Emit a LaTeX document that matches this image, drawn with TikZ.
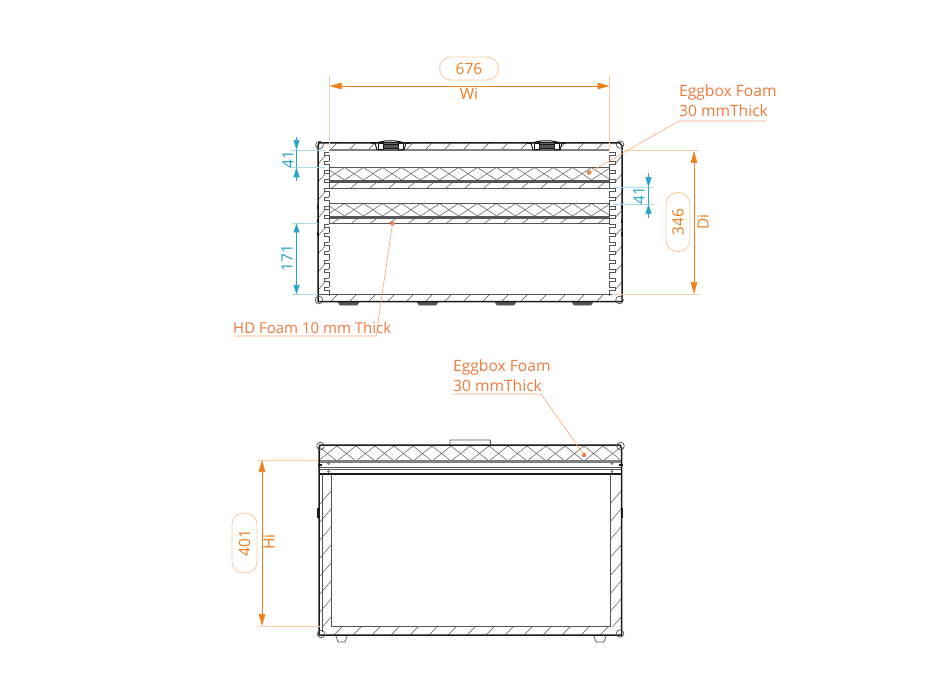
\documentclass[tikz,border=0pt]{standalone}
\usepackage{fontspec}
\setmainfont{Open Sans}
\usetikzlibrary{arrows.meta}
\definecolor{dimo}{HTML}{EF7D1E}
\definecolor{lito}{HTML}{F9CFA9}
\definecolor{leado}{HTML}{F4A97C}
\definecolor{txto}{HTML}{EE7B3C}
\definecolor{dimb}{HTML}{27A4C9}
\definecolor{litb}{HTML}{A9DDEC}
\definecolor{ink}{HTML}{1A1A1A}
\definecolor{mid}{HTML}{555555}
\tikzset{
  x=1pt,y=-1pt,
  outline/.style={draw=ink,line width=1.5pt},
  panel/.style={draw=mid,line width=0.9pt},
  thin hatch/.style={draw=mid,line width=0.5pt},
  foot/.style={draw=mid,fill=mid,line width=0.5pt},
  ftfoot/.style={draw=mid,fill=white,line width=0.7pt},
  corner/.style={draw=mid,line width=0.7pt},
  ext o/.style={draw=lito,line width=1pt},
  ext b/.style={draw=litb,line width=0.9pt},
  dim o/.style={draw=dimo,line width=0.6pt,{Triangle[length=12pt,width=6.5pt]}-{Triangle[length=12pt,width=6.5pt]}},
  dim bi/.style={draw=dimb,line width=0.6pt,{Triangle[length=9pt,width=6pt]}-{Triangle[length=9pt,width=6pt]}},
  dim bo/.style={draw=dimb,line width=0.6pt},
  tip b/.style={draw=dimb,line width=0.6pt,-{Triangle[length=10pt,width=6pt]}},
  pill/.style={draw=lito,line width=0.9pt,fill=white,rounded corners=11.5pt},
  ot/.style={text=dimo,font=\fontsize{15.5}{15.5}\selectfont,inner sep=0pt},
  bt/.style={text=dimb,font=\fontsize{15.5}{15.5}\selectfont,inner sep=0pt},
  lab/.style={text=txto,font=\fontsize{15}{15}\selectfont,inner sep=0pt,anchor=base west},
  labw/.style={lab,font=\fontsize{15.6}{15.6}\selectfont},
  leader/.style={draw=leado,line width=0.6pt},
  leaddot/.style={circle,fill=txto,draw=none,inner sep=0pt,minimum size=4.5pt},
}
\begin{document}
\begin{tikzpicture}
\useasboundingbox (0,0) rectangle (933,700);
\fill[white] (0,0) rectangle (933,700);

% ===== upper view: hatching
\begin{scope}
  \clip (329,143.5) rectangle (609,150);
  \foreach \h in {0,...,15} \draw[thin hatch] ({330+19*\h},150) -- ({337+19*\h},143);
\end{scope}
\begin{scope}
  \clip (329,294) rectangle (609,301);
  \foreach \h in {0,...,15} \draw[thin hatch] ({331+19*\h},301) -- ({338+19*\h},294);
\end{scope}
\foreach \ya/\yb in {167.5/180,203.5/216}{
  \begin{scope}
    \clip (329,\ya) rectangle (609,\yb);
    \foreach \h in {-1,...,15}{
      \draw[thin hatch] ({325.5+19*\h},\ya) -- ({344.5+19*\h},\yb);
      \draw[thin hatch] ({344.5+19*\h},\ya) -- ({325.5+19*\h},\yb);
    }
  \end{scope}
}
\foreach \ya/\yb in {182/188,218.5/223.5}{
  \begin{scope}
    \clip (329,\ya) rectangle (609,\yb);
    \foreach \h in {0,...,15} \draw[thin hatch] ({332+19*\h},\yb) -- ({339+19*\h},\ya);
  \end{scope}
}
% walls hatching
\begin{scope}
  \clip (318,146) rectangle (325,298);
  \foreach \h in {0,...,9} \draw[thin hatch] (317,{165+18*\h}) -- (326,{155+18*\h});
\end{scope}
\begin{scope}
  \clip (615,146) rectangle (622,298);
  \foreach \h in {0,...,9} \draw[thin hatch] (614,{165+18*\h}) -- (623,{155+18*\h});
\end{scope}
% combs
\foreach \h in {0,...,15}{
  \draw[thin hatch] (329,{152+9*\h}) -- (324,{152+9*\h}) -- (324,{155.5+9*\h}) -- (329,{155.5+9*\h}) -- (329,{161+9*\h});
  \draw[thin hatch] (609,{152+9*\h}) -- (615,{152+9*\h}) -- (615,{155.5+9*\h}) -- (609,{155.5+9*\h}) -- (609,{161+9*\h});
}
% panels
\draw[panel,draw=gray,line width=1.1pt] (329,150) -- (609,150);
\foreach \yy in {167.5,180,182,188,203.5,216,218.5,223.5,294}
  \draw[panel] (329,\yy) -- (609,\yy);
\draw[panel,line width=1.3pt] (329,181) -- (609,181);
\draw[panel,line width=1.3pt] (329,217.5) -- (609,217.5);
\draw[panel] (329,167.5) -- (329,188);
\draw[panel] (329,203.5) -- (329,223.5);
\draw[panel] (609,167.5) -- (609,188);
\draw[panel] (609,203.5) -- (609,223.5);
\draw[panel] (318,294) -- (622,294);
% feet
\foreach \fx in {338,417,495,572}
  \draw[foot] (\fx,302) -- ({\fx+21},302) -- ({\fx+19},305) -- ({\fx+2},305) -- cycle;
% latches
\foreach \lx in {372,528}{
  \draw[draw=ink,fill=white,line width=1pt] ({\lx+3},143) -- ({\lx+5},150) -- ({\lx+32},150) -- ({\lx+34},143) -- ({\lx+24},141) -- ({\lx+13},141) -- cycle;
  \draw[draw=ink,fill=mid,line width=.6pt] ({\lx+11},144) rectangle ({\lx+26},148);
  \draw[draw=ink,line width=.6pt] ({\lx+6},143) rectangle ({\lx+11},149) ({\lx+26},143) rectangle ({\lx+31},149);
  \draw[ink,line width=2pt] ({\lx-1},143) -- ({\lx+4},143) ({\lx+33},143) -- ({\lx+38},143);
}
\draw[outline] (318,146) -- (318,301.5) -- (622,301.5) -- (622,146) -- (620,143) -- (319,143) -- cycle;
\foreach \cx/\cy in {319.5/145,620/144.5,319/300,619.5/300}
  \draw[corner] (\cx,\cy) circle (3.8);
\foreach \by in {205,219,232}{
  \draw[ink,line width=1.6pt] (318,\by) -- (318,{\by+4});
  \draw[ink,line width=1.6pt] (622,\by) -- (622,{\by+4});
}

% ===== lower view
\begin{scope}
  \clip (320,446) rectangle (620,461);
  \foreach \h in {-1,...,16}{
    \draw[thin hatch] ({318+19*\h},446) -- ({337+19*\h},461);
    \draw[thin hatch] ({337+19*\h},446) -- ({318+19*\h},461);
  }
\end{scope}
\begin{scope}
  \clip (320,474) rectangle (331,626);
  \foreach \h in {0,...,9} \draw[thin hatch] (319,{505+18*\h}) -- (332,{490+18*\h});
\end{scope}
\begin{scope}
  \clip (610,474) rectangle (621,626);
  \foreach \h in {0,...,9} \draw[thin hatch] (609,{505+18*\h}) -- (622,{490+18*\h});
\end{scope}
\begin{scope}
  \clip (331,626) rectangle (610,635);
  \foreach \h in {0,...,15} \draw[thin hatch] ({334+19*\h},635) -- ({343+19*\h},626);
\end{scope}
\draw[panel,fill=white] (450,445) -- (450,440) -- (490,440) -- (491,445);
\draw[panel,line width=2.4pt,draw=gray] (320,461.5) -- (621,461.5);
\draw[panel,line width=.7pt] (320,467) -- (621,467);
\draw[panel,line width=.7pt] (320,469.5) -- (621,469.5);
\draw[panel,draw=ink,line width=1.1pt] (320,474) -- (621,474);
\draw[panel] (331,474) -- (331,626) -- (610,626) -- (610,474);
\draw[panel] (322,474) -- (322,632);
\foreach \sx in {328.5,612}{
  \draw[mid,line width=.6pt] (\sx,463.5) circle (1);
  \draw[mid,line width=.6pt] (\sx,471.5) circle (1);
}
\draw[ftfoot] (336,636) -- (338,642) -- (345,642) -- (347,636);
\draw[ftfoot] (594,636) -- (596,642) -- (604,642) -- (606,636);
\draw[outline] (319,448) -- (319,635) -- (621.5,635) -- (621.5,448) -- (620,445) -- (320,445) -- cycle;
\foreach \cx/\cy in {320.5/446,620.5/446,321/634,620/633.5}
  \draw[corner] (\cx,\cy) circle (3.8);
\draw[ink,line width=1.2pt] (318,465) -- (322,465);
\draw[ink,line width=1.2pt] (619,465) -- (623,465);
\draw[ink,line width=1.8pt] (318,508) -- (318,518);
\draw[ink,line width=1.8pt] (622.5,508) -- (622.5,518);

% ===== dimensions
% width
\coordinate (wl) at (329.5,75); \coordinate (wle) at (329.5,150);
\coordinate (wr) at (609.5,75); \coordinate (wre) at (609.5,150);
\draw[ext o] (wl) -- (wle);
\draw[ext o] (wr) -- (wre);
\draw[dim o] (329.5,86) -- (609.5,86);
\node[pill,minimum width=59pt,minimum height=23pt,inner sep=0pt,ot] (w676) at (469,68.5) {676};
\node[ot] (wi) at (469,94) {Wi};
% depth
\coordinate (da) at (622,151); \coordinate (db) at (699,151);
\coordinate (dc) at (612,294); \coordinate (dd) at (699,294);
\draw[ext o] (da) -- (db);
\draw[ext o] (dc) -- (dd);
\draw[dim o] (694,151) -- (694,294);
\node[pill,minimum width=59pt,minimum height=24pt,inner sep=0pt,ot,rotate=90] (d346) at (678,222) {346};
\node[ot,rotate=90] (di) at (703,222) {Di};
% height
\coordinate (ha) at (258,460); \coordinate (hb) at (318,460);
\coordinate (hc) at (258,626); \coordinate (hd) at (320,626);
\draw[ext o] (ha) -- (hb);
\draw[ext o] (hc) -- (hd);
\draw[dim o] (262,460) -- (262,626);
\node[pill,minimum width=60pt,minimum height=25pt,inner sep=0pt,ot,rotate=90] (h401) at (244.5,543) {401};
\node[ot,rotate=90] (hi) at (269,542) {Hi};
% blue left 41
\coordinate (b1) at (291,150); \coordinate (b1e) at (325,150);
\coordinate (b2) at (291,167.5); \coordinate (b2e) at (325,167.5);
\draw[ext b] (b1) -- (b1e);
\draw[ext b] (b2) -- (b2e);
\draw[tip b] (296.5,137) -- (296.5,150);
\draw[tip b] (296.5,181) -- (296.5,167.5);
\draw[dim bo] (296.5,150) -- (296.5,167.5);
\node[bt,rotate=90] (l41) at (288,160) {41};
% blue 171
\coordinate (b3) at (292,223.5); \coordinate (b3e) at (318,223.5);
\coordinate (b4) at (292,294); \coordinate (b4e) at (318,294);
\draw[ext b] (b3) -- (b3e);
\draw[ext b] (b4) -- (b4e);
\draw[dim bi] (296.5,223.5) -- (296.5,294);
\node[bt,rotate=90] (l171) at (287,258) {171};
% blue right 41
\coordinate (b5) at (614,187); \coordinate (b5e) at (653,187);
\coordinate (b6) at (614,204); \coordinate (b6e) at (653,204);
\draw[ext b] (b5) -- (b5e);
\draw[ext b] (b6) -- (b6e);
\draw[tip b] (648.5,173) -- (648.5,187);
\draw[tip b] (648.5,218) -- (648.5,204);
\draw[dim bo] (648.5,187) -- (648.5,204);
\node[bt,rotate=90] (r41) at (639,196) {41};

% ===== labels and leaders
\node[labw] (e1a) at (679,96.5) {Eggbox Foam};
\node[labw] (e1b) at (679,116.5) {30 mmThick};
\coordinate (e1s) at (679,121); \coordinate (e1e) at (766,121);
\node[leaddot] (e1d) at (589,172.5) {};
\draw[leader] (e1e) -- (e1s) -- (e1d.center);
\node[lab] (hda) at (233,333) {HD Foam 10 mm Thick};
\coordinate (hs) at (234,336); \coordinate (he) at (376,336);
\node[leaddot] (hdd) at (392.5,223.5) {};
\draw[leader] (hs) -- (he) -- (hdd.center);
\node[labw] (e2a) at (453,371) {Eggbox Foam};
\node[labw] (e2b) at (453,391) {30 mmThick};
\coordinate (e2s) at (453,394); \coordinate (e2e) at (541,394);
\node[leaddot] (e2d) at (584,455) {};
\draw[leader] (e2s) -- (e2e) -- (e2d.center);
\end{tikzpicture}
\end{document}
